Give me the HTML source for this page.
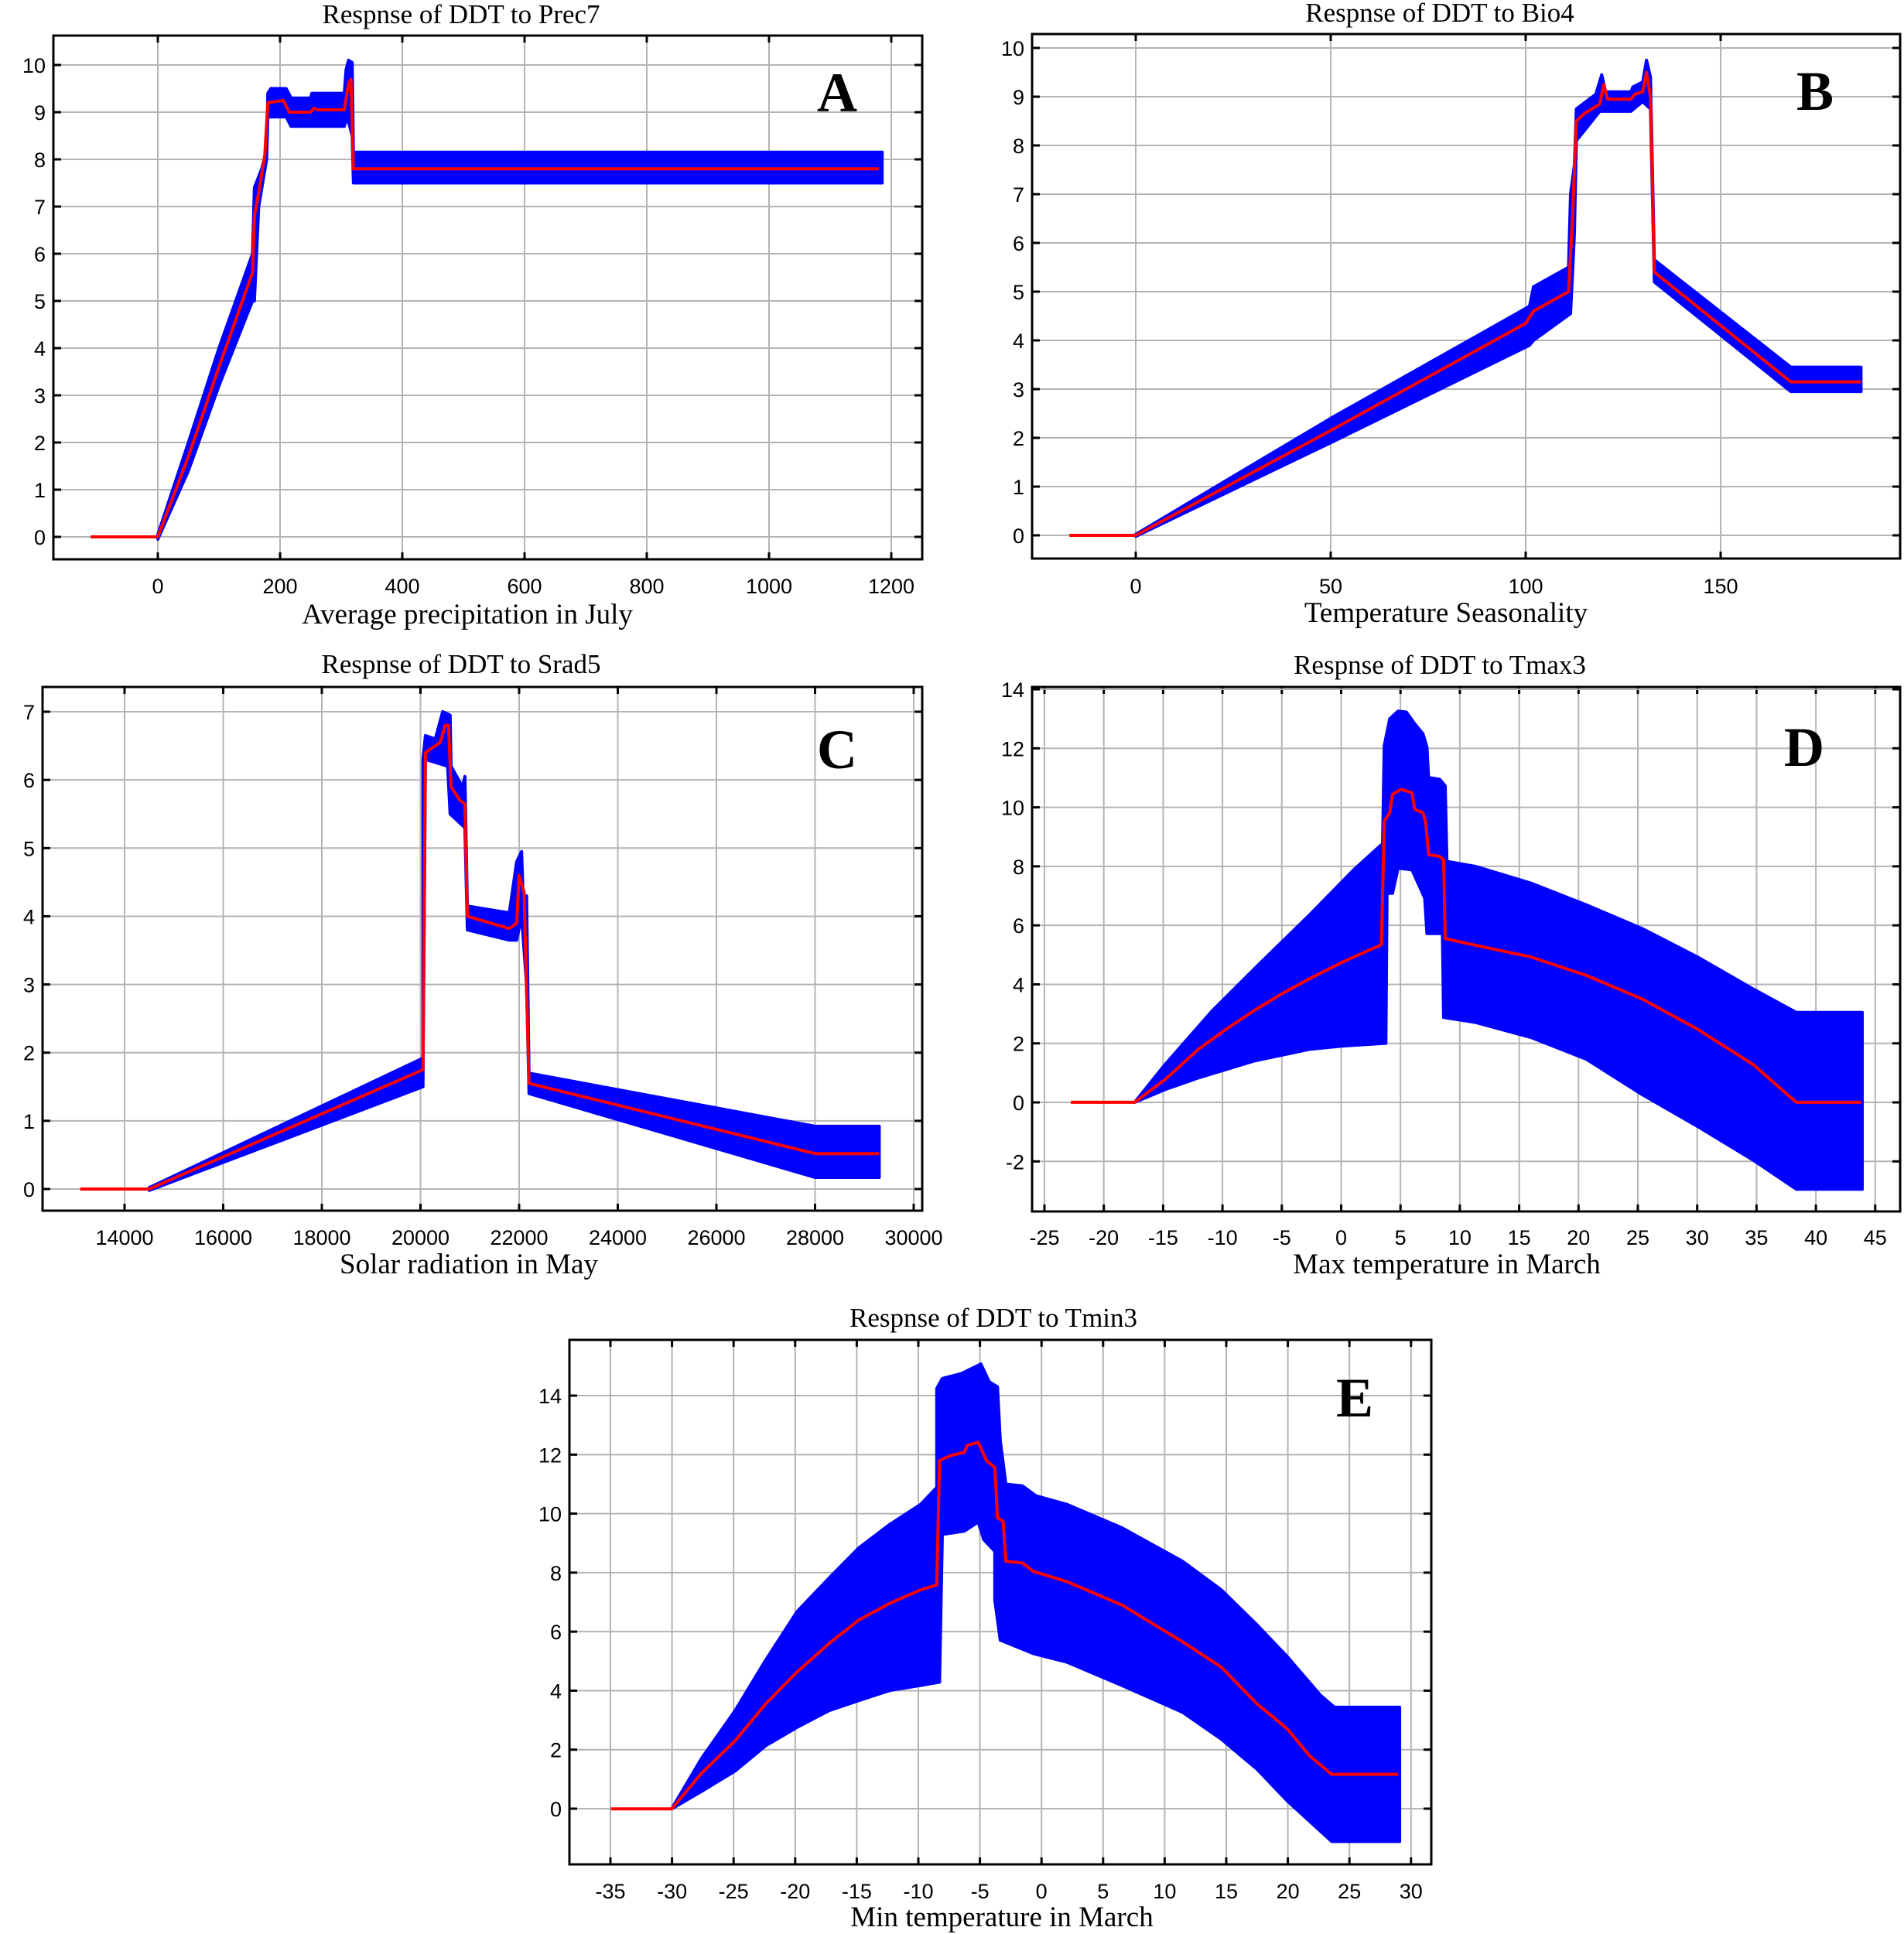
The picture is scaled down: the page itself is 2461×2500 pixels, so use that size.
<!DOCTYPE html>
<html><head><meta charset="utf-8"><style>
html,body{margin:0;padding:0;background:#fff}
svg{display:block}
text{font-family:"Liberation Sans",sans-serif}
.s{font-family:"Liberation Serif",serif}
</style></head><body>
<svg id="c" width="2461" height="2500" viewBox="0 0 2461 2500" xmlns="http://www.w3.org/2000/svg"></svg>
<script>
var S=document.getElementById('c');var out='';
function P(cfg){
 var X=function(v){return cfg.xp+(v-cfg.xv)*cfg.ux};
 var Y=function(v){return cfg.y0-v*cfg.uy};
 var PX=X,PY=Y;
 if(cfg.raw){PX=function(d){return cfg.raw[0]+d*cfg.raw[2]};PY=function(d){return cfg.raw[1]+d*cfg.raw[3]};}
 var L=cfg.box[0],T=cfg.box[1],R=cfg.box[2],B=cfg.box[3];
 var g='';
 cfg.xt.forEach(function(v){var x=X(v);g+='<line x1="'+x+'" y1="'+T+'" x2="'+x+'" y2="'+B+'" stroke="#b4b4b4" stroke-width="2"/>';
  g+='<line x1="'+x+'" y1="'+T+'" x2="'+x+'" y2="'+(T+9)+'" stroke="#000" stroke-width="3"/><line x1="'+x+'" y1="'+B+'" x2="'+x+'" y2="'+(B-9)+'" stroke="#000" stroke-width="3"/>';
  g+='<text x="'+x+'" y="'+(cfg.tly+10)+'" font-size="27" text-anchor="middle">'+v+'</text>';});
 cfg.yt.forEach(function(v){var y=Y(v);g+='<line x1="'+L+'" y1="'+y+'" x2="'+R+'" y2="'+y+'" stroke="#b4b4b4" stroke-width="2"/>';
  g+='<line x1="'+L+'" y1="'+y+'" x2="'+(L+10)+'" y2="'+y+'" stroke="#000" stroke-width="3"/><line x1="'+R+'" y1="'+y+'" x2="'+(R-10)+'" y2="'+y+'" stroke="#000" stroke-width="3"/>';
  g+='<text x="'+(L-10)+'" y="'+(y+10)+'" font-size="27" text-anchor="end">'+v+'</text>';});
 var pts=cfg.up.concat(cfg.lo).map(function(p){return PX(p[0]).toFixed(1)+','+PY(p[1]).toFixed(1)}).join(' ');
 g+='<polygon points="'+pts+'" fill="#0000ff" stroke="#0000ff" stroke-width="4" stroke-linejoin="round"/>';
 var m=cfg.m.map(function(p){return PX(p[0]).toFixed(1)+','+PY(p[1]).toFixed(1)}).join(' ');
 g+='<polyline points="'+m+'" fill="none" stroke="#ff0000" stroke-width="4" stroke-linejoin="round"/>';
 g+='<rect x="'+L+'" y="'+T+'" width="'+(R-L)+'" height="'+(B-T)+'" fill="none" stroke="#000" stroke-width="3"/>';
 g+='<text class="s" x="'+cfg.tx+'" y="'+cfg.ty+'" font-size="35" text-anchor="middle">'+cfg.title+'</text>';
 g+='<text class="s" x="'+cfg.lx+'" y="'+cfg.ly+'" font-size="37" text-anchor="middle">'+cfg.label+'</text>';
 g+='<text class="s" x="'+cfg.Lx+'" y="'+cfg.Ly+'" font-size="72" font-weight="bold" text-anchor="middle">'+cfg.letter+'</text>';
 out+=g;
}
function rng(a,b,s){var r=[];for(var v=a;v<=b+1e-9;v+=s)r.push(Math.round(v*1000)/1000);return r}
// A
P({box:[69,46,1192,723],xp:204,xv:0,ux:0.79,y0:694,uy:61,xt:rng(0,1200,200),yt:rng(0,10,1),tly:757,
 title:'Respnse of DDT to Prec7',tx:596,ty:30,label:'Average precipitation in July',lx:604,ly:806,letter:'A',Lx:1082,Ly:144,
 m:[[-110,0],[0,0],[50,1.7],[100,3.6],[155,5.6],[158,6.8],[165,7.3],[175,8.1],[180,9.2],[205,9.25],[215,9.0],[250,9.0],[255,9.08],[262,9.05],[305,9.05],[312,9.6],[316,9.7],[320,7.8],[1180,7.8]],
 up:[[0,0.05],[50,2.0],[100,4.0],[155,6.0],[158,7.4],[170,7.8],[178,8.2],[180,9.4],[185,9.5],[210,9.5],[218,9.3],[250,9.3],[252,9.4],[305,9.4],[308,9.9],[312,10.1],[318,10.05],[320,8.15],[1185,8.15]],
 lo:[[1185,7.5],[320,7.5],[318,8.5],[310,8.9],[305,8.7],[218,8.7],[210,8.9],[180,8.9],[178,8.0],[165,7.0],[158,5.0],[155,5.0],[100,3.2],[50,1.4],[0,-0.05]]});
// B
P({box:[1334,44,2456,722],xp:1468,xv:0,ux:5.04,y0:692,uy:63,xt:[0,50,100,150],yt:rng(0,10,1),tly:757,
 title:'Respnse of DDT to Bio4',tx:1861,ty:28,label:'Temperature Seasonality',lx:1869,ly:804,letter:'B',Lx:2346,Ly:142,
 m:[[-17,0],[0,0],[50,2.15],[100,4.35],[102,4.6],[111,5.0],[112,6.5],[113,8.5],[115,8.65],[119,8.85],[120,9.25],[121,8.95],[127,8.95],[128,9.05],[130,9.1],[131,9.5],[132,9.0],[133,5.4],[168,3.15],[186,3.15]],
 up:[[0,0.02],[50,2.4],[101,4.7],[102,5.1],[111,5.5],[111.5,7.0],[112.5,7.6],[113,8.75],[118,9.05],[119.5,9.45],[120.5,9.1],[127,9.1],[127.5,9.2],[130,9.3],[131,9.75],[132,9.4],[133,5.65],[168,3.45],[186,3.45]],
 lo:[[186,2.95],[168,2.95],[133,5.2],[132,8.75],[130,8.9],[127,8.7],[121,8.7],[119,8.7],[115,8.3],[113,8.1],[112.5,6.2],[111.5,4.55],[102,4.0],[101,3.9],[50,1.9],[0,-0.02]]});
// C
P({box:[55,888,1192,1565],xp:161,xv:14000,ux:0.06375,y0:1537,uy:88.14,xt:rng(14000,30000,2000),yt:rng(0,7,1),tly:1599,
 title:'Respnse of DDT to Srad5',tx:596,ty:870,label:'Solar radiation in May',lx:606,ly:1646,letter:'C',Lx:1082,Ly:993,
 m:[[13100,0],[14500,0],[20050,1.75],[20100,6.4],[20400,6.55],[20500,6.8],[20570,6.8],[20620,5.9],[20800,5.7],[20900,5.65],[20950,4.0],[21800,3.82],[21950,3.9],[22000,4.6],[22100,4.35],[22200,1.55],[28000,0.52],[29300,0.52]],
 up:[[14500,0.02],[20050,1.92],[20050,6.3],[20100,6.65],[20300,6.6],[20450,7.0],[20600,6.95],[20620,6.2],[20850,5.9],[20900,6.05],[20950,4.15],[21800,4.05],[21950,4.8],[22050,4.95],[22080,4.3],[22150,4.3],[22200,1.7],[28000,0.92],[29300,0.92]],
 lo:[[29300,0.17],[28000,0.17],[22200,1.4],[22150,3.0],[22050,4.0],[21950,3.65],[21800,3.65],[20950,3.8],[20900,5.3],[20600,5.5],[20550,6.2],[20100,6.3],[20050,1.5],[14500,-0.02]]});
// D
P({box:[1334,888,2456,1566],xp:1350,xv:-25,ux:15.34,y0:1425,uy:38.14,xt:rng(-25,45,5),yt:rng(-2,14,2),tly:1599,
 title:'Respnse of DDT to Tmax3',tx:1861,ty:871,label:'Max temperature in March',lx:1870,ly:1646,letter:'D',Lx:2332,Ly:990,
 raw:[1334,888,0.7168,0.4337],
 m:[[70,1238],[185,1238],[240,1170],[300,1080],[350,1020],[400,965],[450,915],[500,870],[560,820],[630,768],[635,400],[645,375],[650,320],[665,305],[685,315],[690,365],[705,375],[710,405],[715,500],[735,505],[742,515],[745,750],[800,770],[900,805],[1000,860],[1100,930],[1200,1020],[1300,1125],[1378,1238],[1495,1238]],
 up:[[185,1238],[240,1125],[325,965],[410,825],[500,680],[580,545],[630,470],[632,470],[635,175],[645,95],[660,72],[675,75],[690,110],[705,140],[712,180],[715,270],[735,275],[745,295],[748,520],[800,535],[900,585],[1000,650],[1100,720],[1200,805],[1300,900],[1378,970],[1497,970]],
 lo:[[1497,1497],[1378,1497],[1300,1410],[1200,1310],[1100,1215],[1000,1110],[900,1045],[800,1000],[742,985],[740,735],[712,735],[708,630],[700,600],[685,545],[660,540],[650,615],[640,615],[638,1062],[560,1070],[500,1080],[400,1115],[300,1165],[240,1200],[185,1238]]});
// E
P({box:[736,1732,1850,2410],xp:789,xv:-35,ux:15.92,y0:2338,uy:38.14,xt:rng(-35,30,5),yt:rng(0,14,2),tly:2444,
 title:'Respnse of DDT to Tmin3',tx:1284,ty:1715,label:'Min temperature in March',lx:1295,ly:2490,letter:'E',Lx:1751,Ly:1831,
 raw:[736,1732,0.714,0.4337],
 m:[[75,1398],[185,1398],[240,1290],[300,1195],[355,1085],[412,990],[470,905],[524,835],[580,785],[636,745],[665,730],[670,360],[690,345],[715,335],[720,315],[740,305],[755,360],[770,380],[775,530],[785,540],[790,660],[820,665],[840,690],[900,720],[1000,790],[1110,900],[1180,975],[1245,1085],[1300,1160],[1340,1240],[1380,1295],[1500,1295]],
 up:[[185,1398],[240,1245],[300,1105],[355,955],[412,810],[470,710],[524,620],[580,550],[636,490],[665,440],[665,145],[675,115],[710,100],[745,72],[760,125],[775,140],[780,300],[790,430],[820,435],[845,465],[900,490],[1000,560],[1110,660],[1180,745],[1245,850],[1300,945],[1360,1060],[1385,1095],[1503,1095]],
 lo:[[1503,1495],[1380,1495],[1300,1375],[1245,1280],[1180,1190],[1110,1110],[1000,1030],[900,960],[840,935],[780,895],[770,775],[770,630],[750,595],[740,543],[715,570],[675,580],[670,1020],[636,1030],[580,1045],[524,1075],[470,1105],[412,1155],[355,1210],[300,1285],[240,1345],[185,1398]]});
S.innerHTML=out;
</script>
</body></html>
